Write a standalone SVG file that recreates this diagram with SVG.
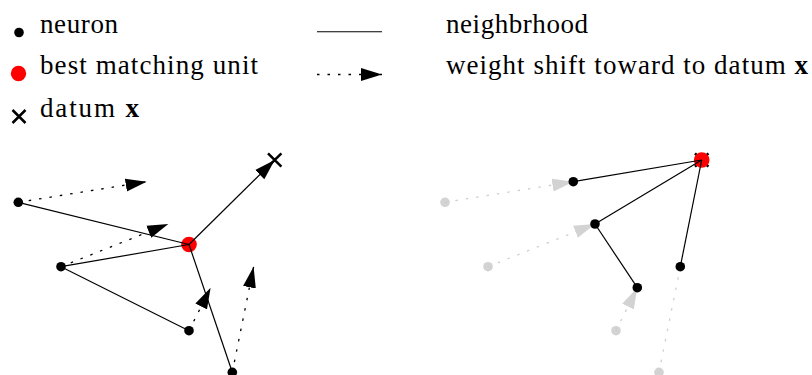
<svg xmlns="http://www.w3.org/2000/svg" width="812" height="375" viewBox="0 0 812 375">
<style>
text{font-family:"Liberation Serif","Times New Roman",serif;font-size:27px;fill:#000}
.b{font-weight:bold}
.edge{stroke:#000;stroke-width:1.2;fill:none}
.dot{stroke:#000;stroke-width:1.3;stroke-dasharray:2.5 8;fill:none}
.gdot{stroke:#cfcfcf;stroke-width:1.3;stroke-dasharray:2.5 8;fill:none}
.n{fill:#000}
.g{fill:#d3d3d3}
.bmu{fill:#ff0000}
.x{stroke:#000;stroke-width:2.5;fill:none}
</style>
<defs>
<marker id="ah" markerUnits="userSpaceOnUse" markerWidth="22" markerHeight="14" refX="21" refY="7" orient="auto" viewBox="0 0 22 14">
<path d="M0,0.5 L21,7 L0,13.5 z" fill="#000" stroke="none"/>
</marker>
<marker id="ahg" markerUnits="userSpaceOnUse" markerWidth="22" markerHeight="14" refX="21" refY="7" orient="auto" viewBox="0 0 22 14">
<path d="M0,0.5 L21,7 L0,13.5 z" fill="#d3d3d3" stroke="none"/>
</marker>
</defs>

<g id="legend">
<circle class="n" cx="19" cy="32.5" r="4.8"/>
<text x="40" y="32.5" textLength="78" lengthAdjust="spacing">neuron</text>
<circle class="bmu" cx="18.5" cy="73.5" r="7.7"/>
<text x="40" y="73.5" textLength="218" lengthAdjust="spacing">best matching unit</text>
<path class="x" d="M12.5,110 L25.5,123 M25.5,110 L12.5,123"/>
<text x="40" y="117" textLength="99" lengthAdjust="spacing">datum <tspan class="b">x</tspan></text>
<line x1="317" y1="31.7" x2="382" y2="31.7" stroke="#000" stroke-width="1.1"/>
<text x="446" y="32.5" textLength="142" lengthAdjust="spacing">neighbrhood</text>
<line class="dot" x1="317" y1="74.5" x2="382" y2="74.5" marker-end="url(#ah)"/>
<text x="446" y="73.5" textLength="362" lengthAdjust="spacing">weight shift toward to datum <tspan class="b">x</tspan></text>
</g>

<g id="left-nodes">
<g id="nA"><circle class="n" cx="18.3" cy="202.3" r="4.8"/></g>
<g id="nB"><circle class="n" cx="61" cy="266.7" r="4.8"/></g>
<g id="nC"><circle class="n" cx="189" cy="330.7" r="4.8"/></g>
<g id="nD"><circle class="n" cx="232.3" cy="372.3" r="4.8"/></g>
<g id="bmuL"><circle class="bmu" cx="189" cy="244.5" r="7.8"/></g>
<g id="xL"><path class="x" d="M268,153.3 L281.4,166.7 M281.4,153.3 L268,166.7"/></g>
</g>

<g id="left-connectors">
<line class="edge" x1="18.3" y1="202.3" x2="189" y2="244.5"/>
<line class="edge" x1="61" y1="266.7" x2="189" y2="244.5"/>
<line class="edge" x1="61" y1="266.7" x2="189" y2="330.7"/>
<line class="edge" x1="189" y1="244.5" x2="232.3" y2="372.3"/>
<line class="edge" x1="189" y1="244.5" x2="274.7" y2="160" marker-end="url(#ah)"/>
<line class="dot" x1="18.3" y1="202.3" x2="146.6" y2="181.7" marker-end="url(#ah)"/>
<line class="dot" x1="61" y1="266.7" x2="168.3" y2="224" marker-end="url(#ah)"/>
<line class="dot" x1="189" y1="330.7" x2="210.6" y2="287.7" marker-end="url(#ah)"/>
<line class="dot" x1="232.3" y1="372.3" x2="253.6" y2="266.7" marker-end="url(#ah)"/>
</g>

<g id="right-old-nodes">
<g id="oA"><circle class="g" cx="445" cy="202.3" r="4.8"/></g>
<g id="oB"><circle class="g" cx="488" cy="266.7" r="4.8"/></g>
<g id="oC"><circle class="g" cx="616" cy="330.7" r="4.8"/></g>
<g id="oD"><circle class="g" cx="659" cy="372.3" r="4.8"/></g>
</g>

<g id="right-shift-connectors">
<line class="gdot" x1="445" y1="202.3" x2="573.3" y2="181.7" marker-end="url(#ahg)"/>
<line class="gdot" x1="488" y1="266.7" x2="595" y2="224" marker-end="url(#ahg)"/>
<line class="gdot" x1="616" y1="330.7" x2="637.3" y2="287.7" marker-end="url(#ahg)"/>
<line class="gdot" x1="659" y1="372.3" x2="680.3" y2="266.7"/>
</g>

<g id="right-nodes">
<g id="xR"><path class="x" d="M695,153.3 L708.4,166.7 M708.4,153.3 L695,166.7"/></g>
<g id="bmuR"><circle class="bmu" cx="701.7" cy="160" r="7.8"/></g>
<g id="mA"><circle class="n" cx="573.3" cy="181.7" r="4.8"/></g>
<g id="mB"><circle class="n" cx="595" cy="224" r="4.8"/></g>
<g id="mC"><circle class="n" cx="637.3" cy="287.7" r="4.8"/></g>
<g id="mD"><circle class="n" cx="680.3" cy="266.7" r="4.8"/></g>
</g>

<g id="right-connectors">
<line class="edge" x1="573.3" y1="181.7" x2="701.7" y2="160"/>
<line class="edge" x1="595" y1="224" x2="701.7" y2="160"/>
<line class="edge" x1="595" y1="224" x2="637.3" y2="287.7"/>
<line class="edge" x1="680.3" y1="266.7" x2="701.7" y2="160"/>
</g>
</svg>
